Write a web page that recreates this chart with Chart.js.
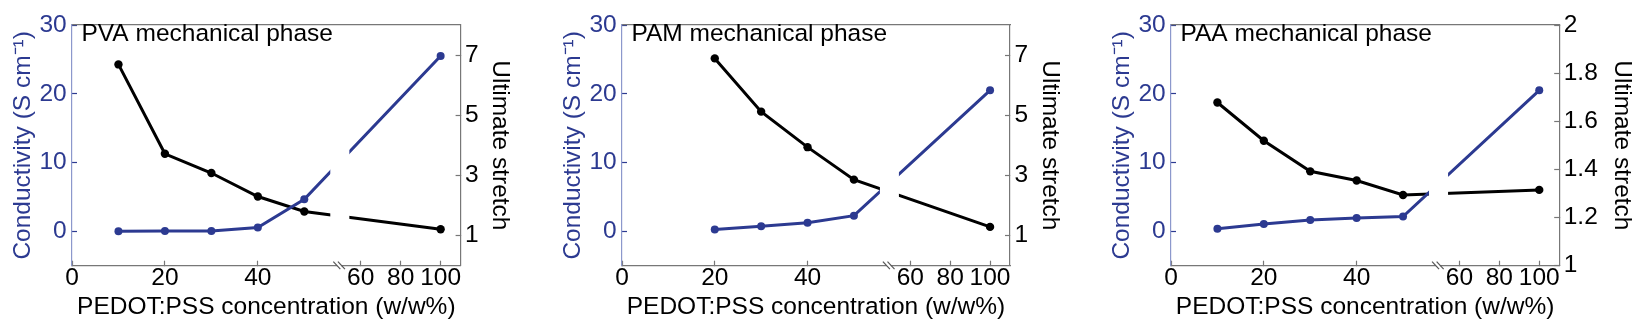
<!DOCTYPE html>
<html>
<head>
<meta charset="utf-8">
<script src="https://cdn.jsdelivr.net/npm/chart.js@4.4.1/dist/chart.umd.min.js"></script>
<style>
  html, body { margin: 0; padding: 0; background: #fff; overflow: hidden; }
  .panel { position: absolute; top: 0; height: 326px; }
</style>
</head>
<body>
<div class="panel" style="left:0px"><canvas id="c0" width="545" height="326"></canvas></div>
<div class="panel" style="left:550px"><canvas id="c1" width="545" height="326"></canvas></div>
<div class="panel" style="left:1099px"><canvas id="c2" width="536" height="326"></canvas></div>
<script>
// tick labels
var xTicks = [0, 20, 40, 60, 80, 100];
var condTicks = [0, 10, 20, 30];
var stretchTicks = [1, 3, 5, 7];
var stretchTicksPaa = [1, 1.2, 1.4, 1.6, 1.8, 2];

// PVA mechanical phase
var pvaConc = [10, 20, 30, 40, 50, 100];
var pvaCond = [0.02, 0.03, 0.06, 0.56, 4.65, 25.5];
var pvaStretch = [6.69, 3.72, 3.08, 2.30, 1.80, 1.21];

// PAM mechanical phase
var pamConc = [20, 30, 40, 50, 100];
var pamCond = [0.28, 0.74, 1.26, 2.27, 20.5];
var pamStretch = [6.89, 5.12, 3.94, 2.86, 1.29];

// PAA mechanical phase
var paaConc = [10, 20, 30, 40, 50, 100];
var paaCond = [0.37, 1.07, 1.63, 1.95, 2.14, 20.5];
var paaStretch = [1.678, 1.519, 1.392, 1.354, 1.294, 1.315];

var BLUE = '#2c3a91';
var BLUE_AXIS = '#8c98cc';
var GRAY = '#777777';
var FAMILY = '"Liberation Sans", Arial, Helvetica, sans-serif';

// broken x axis: 0-55 linear, a gap, then 55-110 compressed
var BREAK_FROM = 55, BREAK_GAP = 5, TAIL = 0.43;
function toAxis(c) {
    if (c <= BREAK_FROM) return c;
    return BREAK_FROM + BREAK_GAP + (c - BREAK_FROM) * TAIL;
}

Chart.defaults.font.family = FAMILY;

var panels = [
    {canvas: 'c0', name: 'PVA mechanical phase', conc: pvaConc, cond: pvaCond, stretch: pvaStretch,
     sMin: 0, sMax: 8, sTicks: stretchTicks, rightW: 84.4, rightPad: 30.6},
    {canvas: 'c1', name: 'PAM mechanical phase', conc: pamConc, cond: pamCond, stretch: pamStretch,
     sMin: 0, sMax: 8, sTicks: stretchTicks, rightW: 85, rightPad: 30.8},
    {canvas: 'c2', name: 'PAA mechanical phase', conc: paaConc, cond: paaCond, stretch: paaStretch,
     sMin: 1, sMax: 2, sTicks: stretchTicksPaa, rightW: 75.8, rightPad: -1.5}
];

var decor = {
    id: 'decor',
    afterDatasetsDraw: function(chart) {
        // white strip where the axis is broken
        var ctx = chart.ctx, a = chart.chartArea, x = chart.scales.x;
        var x1 = x.getPixelForValue(55.6), x2 = x.getPixelForValue(59.7);
        ctx.save();
        ctx.fillStyle = '#fff';
        ctx.fillRect(x1, a.top + 1.5, x2 - x1, a.bottom - a.top - 3);
        ctx.restore();
    },
    afterDraw: function(chart) {
        var ctx = chart.ctx, a = chart.chartArea, x = chart.scales.x;
        var xc = x.getPixelForValue(57.5), yb = a.bottom;
        ctx.save();
        ctx.fillStyle = '#fff';
        ctx.fillRect(xc - 2, yb - 1.5, 4, 3);
        ctx.strokeStyle = '#555';
        ctx.lineWidth = 1.2;
        [-2.3, 2.3].forEach(function(d) {
            ctx.beginPath();
            ctx.moveTo(xc + d - 3.5, yb - 4);
            ctx.lineTo(xc + d + 3.5, yb + 3.5);
            ctx.stroke();
        });
        // panel label inside the plot
        ctx.fillStyle = '#000';
        ctx.font = '24.5px ' + FAMILY;
        ctx.textBaseline = 'alphabetic';
        ctx.textAlign = 'left';
        ctx.fillText(chart.options.panelName, a.left + 9.5, 40.7);
        ctx.restore();
    }
};

panels.forEach(function(p) {
    var condPts = p.conc.map(function(c, i) { return {x: toAxis(c), y: p.cond[i]}; });
    var strPts = p.conc.map(function(c, i) { return {x: toAxis(c), y: p.stretch[i]}; });

    new Chart(document.getElementById(p.canvas), {
        type: 'line',
        data: {
            datasets: [{
                label: 'Conductivity',
                data: condPts,
                yAxisID: 'yL',
                borderColor: BLUE,
                backgroundColor: BLUE,
                borderWidth: 3,
                pointRadius: 4,
                pointBorderWidth: 0,
                tension: 0,
                order: 0
            }, {
                label: 'Ultimate stretch',
                data: strPts,
                yAxisID: 'yR',
                borderColor: '#000',
                backgroundColor: '#000',
                borderWidth: 3,
                pointRadius: 4.2,
                pointBorderWidth: 0,
                tension: 0,
                order: 1
            }]
        },
        plugins: [decor],
        options: {
            panelName: p.name,
            responsive: false,
            animation: false,
            events: [],
            layout: {padding: {top: 15, bottom: 0, left: 0, right: 0}},
            plugins: {legend: {display: false}, tooltip: {enabled: false}},
            scales: {
                x: {
                    type: 'linear', position: 'bottom', min: 0, max: toAxis(110),
                    afterBuildTicks: function(s) { s.ticks = xTicks.map(function(v) { return {value: toAxis(v)}; }); },
                    afterFit: function(s) { s.height = 60.3; },
                    grid: {drawOnChartArea: false, tickLength: -5, tickColor: GRAY, tickWidth: 1.2},
                    border: {color: GRAY, width: 1.2},
                    ticks: {
                        autoSkip: false, maxRotation: 0, padding: 3.1, color: '#000',
                        font: {size: 24.5},
                        callback: function(v, i) { return String(xTicks[i]); }
                    },
                    title: {display: true, text: 'PEDOT:PSS concentration (w/w%)', color: '#000',
                            font: {size: 24.5}, padding: {top: 0, bottom: 4.1}}
                },
                xTop: {
                    type: 'linear', position: 'top', min: 0, max: 1,
                    afterFit: function(s) { s.height = 0; },
                    ticks: {display: false},
                    grid: {display: false},
                    border: {color: GRAY, width: 1.2}
                },
                yL: {
                    type: 'linear', position: 'left', min: -5, max: 30,
                    afterBuildTicks: function(s) { s.ticks = condTicks.map(function(v) { return {value: v}; }); },
                    afterFit: function(s) { s.width = 72; },
                    grid: {drawOnChartArea: false, tickLength: -5, tickColor: BLUE, tickWidth: 1.2},
                    border: {color: BLUE_AXIS, width: 1.2},
                    ticks: {
                        padding: 10.3, color: BLUE, font: {size: 24.5},
                        callback: function(v, i) { return String(condTicks[i]); }
                    },
                    title: {display: true, text: 'Conductivity (S cm⁻¹)', color: BLUE,
                            font: {size: 24.5}, padding: {top: 8.5, bottom: 0}}
                },
                yR: {
                    type: 'linear', position: 'right', min: p.sMin, max: p.sMax,
                    afterBuildTicks: function(s) { s.ticks = p.sTicks.map(function(v) { return {value: v}; }); },
                    afterFit: function(s) { s.width = p.rightW; },
                    grid: {drawOnChartArea: false, tickLength: -5, tickColor: GRAY, tickWidth: 1.2},
                    border: {color: GRAY, width: 1.2},
                    ticks: {
                        padding: 9.5, color: '#000', font: {size: 24.5},
                        callback: function(v, i) { return String(p.sTicks[i]); }
                    },
                    title: {display: true, text: 'Ultimate stretch', color: '#000',
                            font: {size: 24.5}, padding: {top: p.rightPad, bottom: 0}}
                }
            }
        }
    });
});
</script>
</body>
</html>
